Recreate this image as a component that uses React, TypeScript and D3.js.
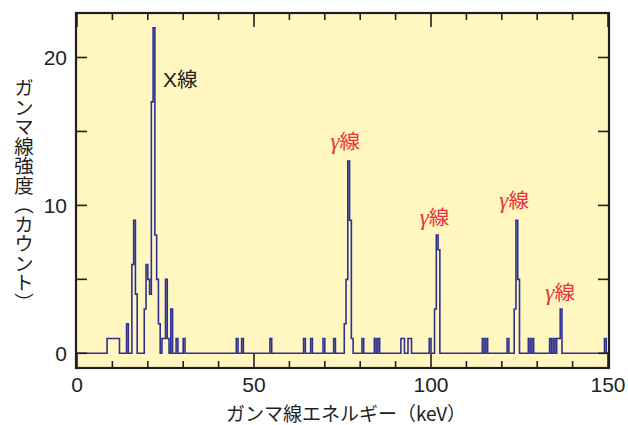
import React from 'react';
import * as d3 from 'd3';

// Spectrum: non-zero bins (bin start energy in keV, bin width 0.5 keV) and their counts
const binStarts: number[] = [
  8.5, 9, 9.5, 10, 10.5, 11, 11.5,
  14,
  15.5, 16, 16.5,
  19, 19.5, 20, 20.5, 21, 21.5, 22, 22.5, 23,
  24, 24.5, 25, 25.5, 26.5,
  28, 30,
  45, 46.5, 54.5, 64, 66, 69.5, 72.5,
  75.5, 76, 76.5, 77, 77.5,
  80.5, 84, 85,
  91.5, 92, 93.5, 94, 99.5,
  101, 101.5, 102,
  114.5, 115.5, 121.5,
  123.5, 124, 124.5,
  127.5, 128.5, 133.5, 134.5, 135.5, 136, 136.5, 149,
];
const binCounts: number[] = [
  1, 1, 1, 1, 1, 1, 1,
  2,
  6, 9, 4,
  3, 6, 5, 4, 17, 22, 8, 5, 2,
  1, 1, 5, 1, 3,
  1, 1,
  1, 1, 1, 1, 1, 1, 1,
  2, 5, 13, 9, 1,
  1, 1, 1,
  1, 1, 1, 1, 1,
  3, 8, 7,
  1, 1, 1,
  3, 9, 5,
  1, 1, 1, 1, 1, 1, 3, 1,
];
const BIN_WIDTH = 0.5;
const E_MIN = 0;
const E_MAX = 150;

const xTickLabels = [0, 50, 100, 150];
const xMinorTicks = d3.range(0, 151, 10);
const yTickLabels = [0, 10, 20];
const yMinorTicks = [0, 5, 10, 15, 20];

const annotations = [
  { prefix: 'X', text: '線', e: 24.3, c: 18.0, color: '#231f20', gamma: false },
  { prefix: 'γ', text: '線', e: 71.6, c: 13.8, color: '#e8333b', gamma: true },
  { prefix: 'γ', text: '線', e: 96.8, c: 8.7, color: '#e8333b', gamma: true },
  { prefix: 'γ', text: '線', e: 119.3, c: 9.8, color: '#e8333b', gamma: true },
  { prefix: 'γ', text: '線', e: 132.3, c: 3.6, color: '#e8333b', gamma: true },
];

const W = 628;
const H = 425;
const frame = { left: 76, top: 13, right: 609, bottom: 368 };

const x = d3.scaleLinear().domain([E_MIN, E_MAX]).range([77, 608]);
const y = d3.scaleLinear().domain([0, 20]).range([353.3, 57.5]);

const JP = '"Noto Sans CJK JP", "Noto Sans", sans-serif';
const LAT = '"Liberation Sans", Arial, Helvetica, sans-serif';
const SERIF = '"Liberation Serif", "DejaVu Serif", serif';
const INK = '#231f20';

function buildSpectrum(): [number, number][] {
  const n = Math.round((E_MAX - E_MIN) / BIN_WIDTH);
  const counts = new Array(n).fill(0);
  binStarts.forEach((e, i) => {
    const k = Math.round((e - E_MIN) / BIN_WIDTH);
    if (k >= 0 && k < n) counts[k] = binCounts[i];
  });
  const pts: [number, number][] = counts.map((c, k) => [E_MIN + k * BIN_WIDTH, c]);
  pts.push([E_MAX, counts[n - 1]]);
  return pts;
}

export default function App() {
  const pts = buildSpectrum();
  const line = d3
    .line<[number, number]>()
    .x((d) => x(d[0]))
    .y((d) => y(d[1]))
    .curve(d3.curveStepAfter);

  return (
    <svg
      width={W}
      height={H}
      viewBox={`0 0 ${W} ${H}`}
      style={{ position: 'absolute', left: 0, top: 0, display: 'block', background: '#ffffff' }}
    >
      <defs>
        <clipPath id="plotclip">
          <rect x={frame.left} y={frame.top} width={frame.right - frame.left} height={frame.bottom - frame.top} />
        </clipPath>
      </defs>
      <rect
        x={frame.left}
        y={frame.top}
        width={frame.right - frame.left}
        height={frame.bottom - frame.top}
        fill="#fff6c0"
      />
      <path
        d={line(pts) || ''}
        fill="none"
        stroke="#2e3192"
        strokeWidth={1.6}
        strokeLinejoin="miter"
        clipPath="url(#plotclip)"
      />
      {/* x ticks */}
      {xMinorTicks.map((v) => {
        const len = v % 50 === 0 ? 14 : 7;
        return (
          <g key={'xt' + v} stroke={INK} strokeWidth={1.6}>
            <line x1={x(v)} x2={x(v)} y1={frame.bottom} y2={frame.bottom - len} />
            <line x1={x(v)} x2={x(v)} y1={frame.top} y2={frame.top + len} />
          </g>
        );
      })}
      {/* y ticks */}
      {yMinorTicks.map((v) => (
        <g key={'yt' + v} stroke={INK} strokeWidth={1.6}>
          <line x1={frame.left} x2={frame.left + 11} y1={y(v)} y2={y(v)} />
          <line x1={frame.right} x2={frame.right - 11} y1={y(v)} y2={y(v)} />
        </g>
      ))}
      <rect
        x={frame.left}
        y={frame.top}
        width={frame.right - frame.left}
        height={frame.bottom - frame.top}
        fill="none"
        stroke={INK}
        strokeWidth={2.2}
      />
      {/* tick labels */}
      {xTickLabels.map((v) => (
        <text key={'xl' + v} x={x(v)} y={392} textAnchor="middle" fontFamily={LAT} fontSize={21} fill={INK}>
          {v}
        </text>
      ))}
      {yTickLabels.map((v) => (
        <text
          key={'yl' + v}
          x={67}
          y={y(v) + 7.5}
          textAnchor="end"
          fontFamily={LAT}
          fontSize={21}
          fill={INK}
        >
          {v}
        </text>
      ))}
      {/* axis titles */}
      <text x={346} y={421} textAnchor="middle" fontFamily={JP} fontSize={19} fill={INK}>
        ガンマ線エネルギー（keV）
      </text>
      <text
        x={24}
        y={195}
        textAnchor="middle"
        fontFamily={JP}
        fontSize={19.5}
        fill={INK}
        style={{ writingMode: 'vertical-rl' }}
      >
        ガンマ線強度（カウント）
      </text>
      {/* annotations */}
      {annotations.map((a, i) => (
        <text key={'an' + i} x={x(a.e)} y={y(a.c)} fontFamily={JP} fontSize={20.5} fill={a.color}>
          <tspan
            fontFamily={a.gamma ? SERIF : LAT}
            fontStyle={a.gamma ? 'italic' : 'normal'}
            fontSize={a.gamma ? 23 : 21}
          >
            {a.prefix}
          </tspan>
          {a.text}
        </text>
      ))}
    </svg>
  );
}
